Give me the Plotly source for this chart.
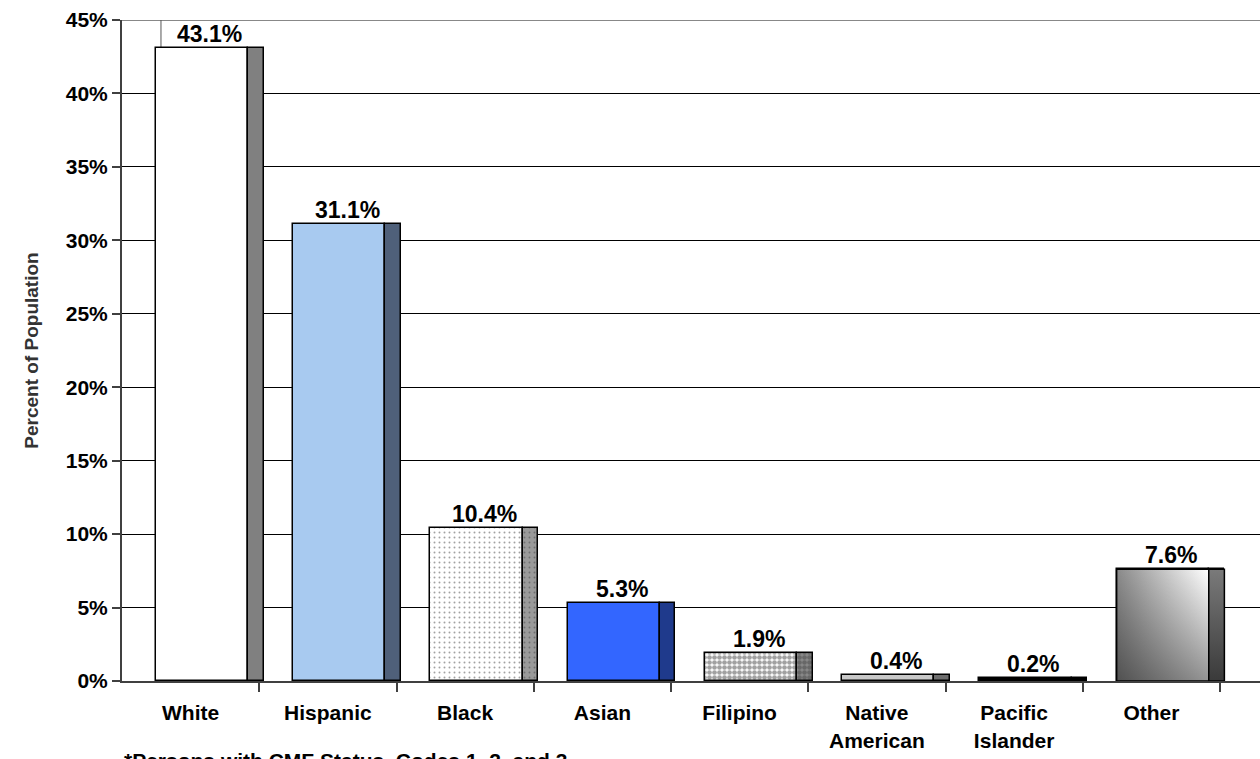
import plotly.graph_objects as go

# Population share by race / ethnicity
categories = ["White", "Hispanic", "Black", "Asian", "Filipino",
              "Native<br>American", "Pacific<br>Islander", "Other"]
pct = [43.1, 31.1, 10.4, 5.3, 1.9, 0.4, 0.2, 7.6]

front_colors = ["#FFFFFF", "#A8CAF0", "#FFFFFF", "#3366FF", "#FFFFFF", "#C8C8C8", "#000000", "#FFFFFF"]
side_colors = ["#808080", "#4F607A", "#9A9A9A", "#1F3A8C", "#8A8A8A", "#6E6E6E", "#000000", "#666666"]
front_patterns = ["", "", ".", "", ".", "", "", ""]
pattern_size = [4, 4, 5, 4, 5, 4, 4, 4]
pattern_solidity = [0.2, 0.2, 0.12, 0.2, 0.7, 0.2, 0.2, 0.2]
footnote = "*Persons with CMF Status, Codes 1, 2, and 3"

# bar geometry inside each category slot (slot width = 1)
FL, FR, SR = 0.247, 0.918, 1.032
XMAX = 1138 / 137.25
FONT = "Liberation Sans, Arial, sans-serif"

n = len(categories)
idx = list(range(n))

fig = go.Figure()

# front faces
fig.add_trace(go.Bar(
    x=[i + (FL + FR) / 2 for i in idx], y=pct, width=[FR - FL] * n,
    marker=dict(color=front_colors,
                line=dict(color="#000000", width=1.5),
                pattern=dict(shape=front_patterns, fgcolor="#000000",
                             fillmode="overlay", size=pattern_size,
                             solidity=pattern_solidity)),
    hoverinfo="skip", showlegend=False))

# side (depth) faces
fig.add_trace(go.Bar(
    x=[i + (FR + SR) / 2 for i in idx], y=pct, width=[SR - FR] * n,
    marker=dict(color=side_colors,
                line=dict(color="#000000", width=1.5),
                pattern=dict(shape=front_patterns, fgcolor="#000000",
                             fillmode="overlay", size=pattern_size,
                             solidity=pattern_solidity)),
    hoverinfo="skip", showlegend=False))

# gradient shading for the "Other" bar
k = categories.index("Other")
v = pct[k]
fx = [k + FL, k + FR, k + FR, k + FL, k + FL]
sx = [k + FR, k + SR, k + SR, k + FR, k + FR]
yy = [0, 0, v, v, 0]
fig.add_trace(go.Scatter(
    x=fx, y=yy, mode="lines", fill="toself",
    fillgradient=dict(type="horizontal",
                      colorscale=[[0, "#8A8A8A"], [1, "#FFFFFF"]]),
    line=dict(width=0), hoverinfo="skip", showlegend=False))
fig.add_trace(go.Scatter(
    x=fx, y=yy, mode="lines", fill="toself",
    fillgradient=dict(type="vertical",
                      colorscale=[[0, "rgba(0,0,0,0.42)"], [1, "rgba(0,0,0,0)"]]),
    line=dict(color="#000000", width=1.5), hoverinfo="skip", showlegend=False))
fig.add_trace(go.Scatter(
    x=sx, y=yy, mode="lines", fill="toself",
    fillgradient=dict(type="vertical",
                      colorscale=[[0, "#3A3A3A"], [1, "#7A7A7A"]]),
    line=dict(color="#000000", width=1.5), hoverinfo="skip", showlegend=False))

# value labels
for i, val in zip(idx, pct):
    fig.add_annotation(x=i + (FL + SR) / 2, y=val, xref="x", yref="y",
                       text=f"{val:.1f}%", showarrow=False,
                       yanchor="bottom", yshift=-1,
                       font=dict(family=FONT, size=23, color="#000000", weight="bold"))

# footnote
fig.add_annotation(x=0.0, y=-0.1, xref="paper", yref="paper",
                   xanchor="left", yanchor="top", showarrow=False,
                   text=footnote,
                   font=dict(family=FONT, size=21, color="#000000", weight="bold"))

# top border line and back-wall edge
fig.add_shape(type="line", xref="paper", yref="y", x0=0, x1=1, y0=45, y1=45,
              line=dict(color="#888888", width=2), layer="below")
fig.add_shape(type="line", xref="x", yref="y", x0=0.284, x1=0.284, y0=0, y1=45,
              line=dict(color="#555555", width=1), layer="below")

fig.update_layout(
    width=1260, height=759,
    margin=dict(l=122, r=0, t=20, b=78),
    paper_bgcolor="#FFFFFF", plot_bgcolor="#FFFFFF",
    barmode="overlay", bargap=0,
    font=dict(family=FONT, color="#000000"),
    xaxis=dict(range=[0, XMAX], tickmode="array",
               tickvals=[i + 0.5 for i in idx], ticktext=categories,
               ticks="", ticklabelstandoff=12,
               tickfont=dict(family=FONT, size=21, color="#000000", weight="bold"),
               showline=True, linecolor="#404040", linewidth=2,
               showgrid=False, zeroline=False,
               minor=dict(tickmode="array", tickvals=list(range(1, n + 1)),
                          ticks="outside", ticklen=9, tickcolor="#404040",
                          tickwidth=1.5, showgrid=False)),
    yaxis=dict(range=[0, 45], tickmode="linear", tick0=0, dtick=5,
               ticksuffix="%", ticks="outside", ticklen=8,
               tickcolor="#404040", tickwidth=1.5,
               tickfont=dict(family=FONT, size=21, color="#000000", weight="bold"),
               showline=True, linecolor="#404040", linewidth=2,
               showgrid=True, gridcolor="#000000", gridwidth=1,
               zeroline=False,
               title=dict(text="Percent of Population", standoff=22,
                          font=dict(family=FONT, size=19, color="#333333", weight="bold"))),
)

fig.write_html("out.html")
